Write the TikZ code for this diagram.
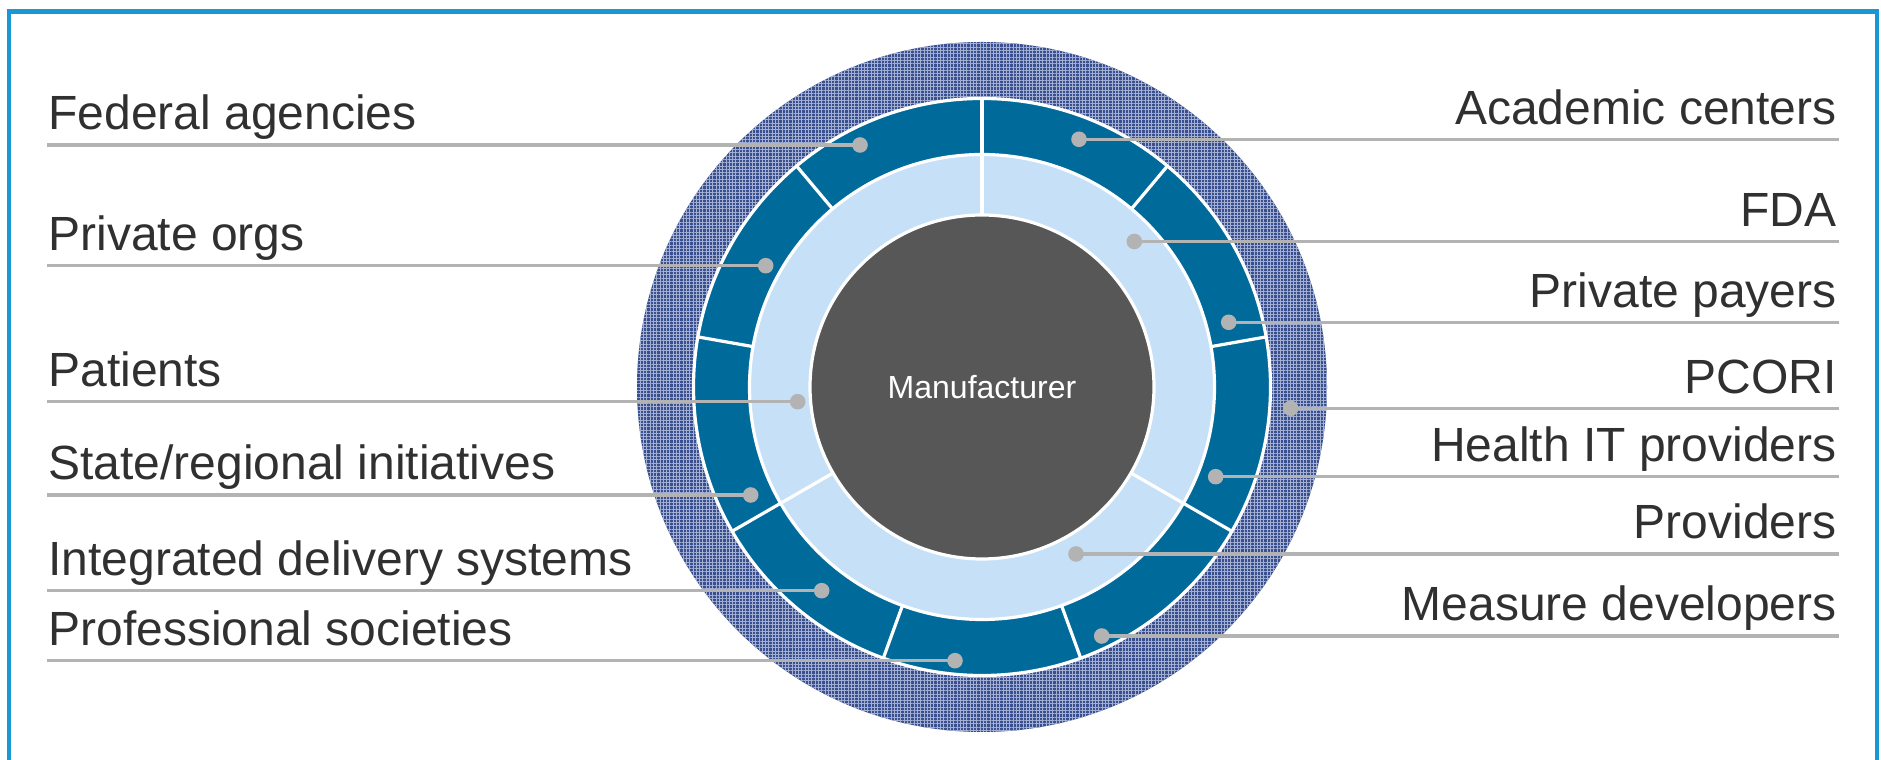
\documentclass[tikz,border=0pt]{standalone}
\usepackage{fontspec}
\setmainfont{Liberation Sans}
\usetikzlibrary{patterns.meta}

\definecolor{framebl}{HTML}{1A98D5}
\definecolor{ringnavy}{HTML}{394F8E}
\definecolor{ringgrid}{HTML}{A3B0D3}
\definecolor{segdark}{HTML}{006A9A}
\definecolor{seglight}{HTML}{C6E0F8}
\definecolor{hub}{HTML}{575757}
\definecolor{leadgray}{HTML}{B3B3B3}
\definecolor{txt}{HTML}{303030}

\tikzset{
  frameline/.style={draw=framebl, line width=2.3pt},
  disc/.style={circle, inner sep=0pt, outer sep=0pt},
  rim/.style={draw=white, line width=1.6pt},
  divider/.style={draw=white, line width=1.6pt},
  leader/.style={draw=leadgray, line width=1.65pt},
  dot/.style={circle, fill=leadgray, inner sep=0pt, minimum size=7.8pt},
  lbl/.style={font=\fontsize{24}{28}\selectfont, text=txt, inner sep=0pt},
}

\begin{document}
\begin{tikzpicture}[x=0.5pt, y=0.5pt]
\useasboundingbox (0,0) rectangle (1881,760);

% outer frame, open at the bottom
\draw[frameline] (9,-20) -- (9,748.3) -- (1877,748.3) -- (1877,-20);

% concentric rings
\coordinate (C) at (982,373);
\node[disc, minimum size=345pt, fill=ringnavy] (outer) at (C) {};
\fill[pattern={Lines[angle=0, distance=1.65pt, line width=0.42pt]}, pattern color=ringgrid]
  (C) circle[radius=345];
\fill[pattern={Lines[angle=90, distance=1.65pt, line width=0.42pt]}, pattern color=ringgrid]
  (C) circle[radius=345];
\node[disc, minimum size=288.5pt, fill=segdark, rim] (stake) at (C) {};
\node[disc, minimum size=232.5pt, fill=seglight, rim] (reg) at (C) {};
\node[disc, minimum size=172pt, fill=hub, rim, text=white,
      font=\fontsize{16}{19}\selectfont] (mfr) at (C) {Manufacturer};

% segment dividers
\begin{scope}[shift={(C)}]
  \foreach \a in {90,50,10,-30,-70,-110,-150,170,130}
    \draw[divider] (\a:232.5) -- (\a:289);
  \foreach \a in {90,-30,210}
    \draw[divider] (\a:172) -- (\a:233);
\end{scope}

% left-hand labels
\foreach \id/\y/\dx/\t in {
  fed/615/860/Federal agencies,
  porg/494.3/765.7/Private orgs,
  pat/358.3/797.7/Patients,
  state/265/750.7/State\slash regional initiatives,
  ids/169.3/821.7/Integrated delivery systems,
  prof/99.3/955/Professional societies}{
  \coordinate (\id-end) at (47,\y);
  \node[dot] (\id-dot) at (\dx,\y) {};
  \draw[leader] (\id-end) -- (\id-dot.center);
  \node[lbl, anchor=base west] (\id-lbl) at (48,\y+15) {\t};
}

% right-hand labels
\foreach \id/\y/\dx/\t in {
  acad/620.7/1079/Academic centers,
  fda/518.5/1134.3/FDA,
  ppay/437.7/1228.7/Private payers,
  pcori/351.7/1290.7/PCORI,
  hit/283.3/1215.7/Health IT providers,
  prov/206/1076/Providers,
  meas/124/1101.7/Measure developers}{
  \coordinate (\id-end) at (1839,\y);
  \node[dot] (\id-dot) at (\dx,\y) {};
  \draw[leader] (\id-dot.center) -- (\id-end);
  \node[lbl, anchor=base east] (\id-lbl) at (1837,\y+15) {\t};
}
\end{tikzpicture}
\end{document}
